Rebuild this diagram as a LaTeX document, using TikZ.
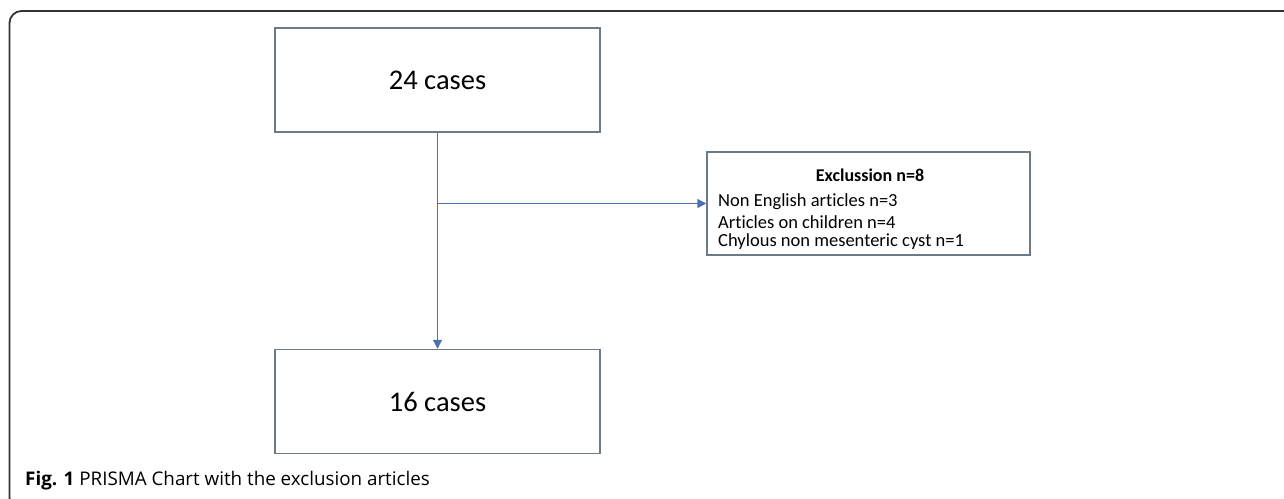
\documentclass[tikz,border=0pt]{standalone}
\usepackage{fontspec}
\setmainfont[Ligatures=NoCommon]{Carlito}
\newfontfamily\capfont{Open Sans}
\usetikzlibrary{arrows.meta}
\definecolor{boxgray}{HTML}{6E7A86}
\definecolor{arrblue}{HTML}{4A72B0}
\definecolor{framec}{HTML}{333333}
\tikzset{
  casebox/.style={draw=boxgray, line width=1.5pt, minimum width=325pt, minimum height=104pt, inner sep=0pt, font=\fontsize{28.5}{32}\selectfont},
  exbox/.style={draw=boxgray, line width=1.5pt, minimum width=323pt, minimum height=103pt, inner sep=0pt},
  flow/.style={draw=arrblue, line width=1.5pt, -{Triangle[length=9pt,width=9pt]}},
  extext/.style={anchor=west, inner sep=0pt, font=\fontsize{18.5}{21}\selectfont}
}
\begin{document}
\begin{tikzpicture}[x=1pt,y=-1pt]
\useasboundingbox (0,0) rectangle (1284,498);
\begin{scope}
\clip (0,0) rectangle (1284,498);
\draw[framec, line width=1.8pt, rounded corners=12pt] (1300,11) -- (9.5,11) -- (9.5,510) -- (1300,510);
\end{scope}
\node[casebox] (top) at (437.5,80) {24 cases};
\node[casebox] (bot) at (437.5,401.5) {16 cases};
\node[exbox] (ex) at (868.5,203.5) {};
\node[inner sep=0pt, font=\fontsize{18}{21}\selectfont\bfseries] (t0) at (870,175) {Exclussion n=8};
\node[extext] (t1) at (718,201.5) {Non English articles n=3};
\node[extext] (t2) at (718,222) {Articles on children n=4};
\node[extext] (t3) at (718,242) {Chylous non mesenteric cyst n=1};
\coordinate (j) at (top.south |- ex.west);
\draw[flow] (top.south) -- (bot.north);
\draw[flow] (j) -- (ex.west);
\node[anchor=base west, inner sep=0pt, font=\capfont\fontsize{18.8}{21}\selectfont] (cap) at (25,485) {\textbf{Fig. 1} PRISMA Chart with the exclusion articles};
\end{tikzpicture}
\end{document}
